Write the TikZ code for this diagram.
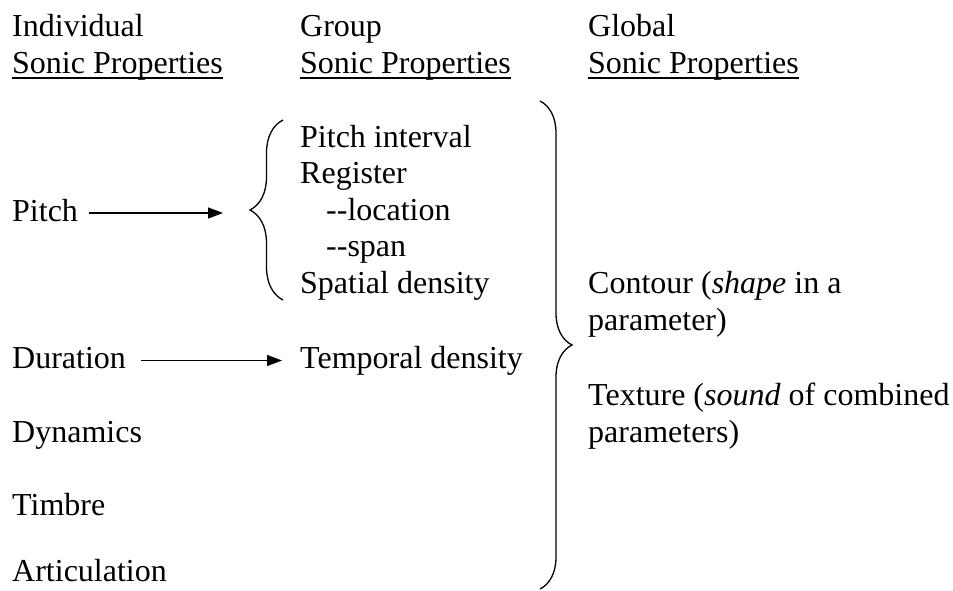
\documentclass[tikz,border=0pt]{standalone}
\usepackage{fontspec}
\setmainfont{Liberation Serif}
\usetikzlibrary{arrows.meta,positioning,decorations.pathreplacing}

\begin{document}
\begin{tikzpicture}[
    x=1pt, y=-1pt,
    font=\fontsize{32}{36.8}\selectfont,
    txt/.style={anchor=base west, inner sep=0pt, text height=22pt, text depth=6pt},
    uline/.style={line width=1.5pt},
    curly/.style={decorate, line width=1.3pt, decoration={brace, amplitude=#1}},
    arrow/.style={-{Triangle[length=15pt,width=11pt]}, line width=1.3pt}
]
\useasboundingbox (0,0) rectangle (953,590);

% Headings
\node[txt] (indiv) at (12,36) {Individual};
\node[txt] (indiv_sp) at (12,73.5) {Sonic Properties};
\node[txt] (group) at (300,36) {Group};
\node[txt] (group_sp) at (300,73.5) {Sonic Properties};
\node[txt] (global) at (588,36) {Global};
\node[txt] (global_sp) at (588,73.5) {Sonic Properties};

% Individual properties
\node[txt] (pitch) at (12,221) {Pitch};
\node[txt] (duration) at (12,368.5) {Duration};
\node[txt] (dynamics) at (12,442) {Dynamics};
\node[txt] (timbre) at (12,515) {Timbre};
\node[txt, text depth=0pt] (artic) at (12,581) {Articulation};

% Group properties
\node[txt] (interval) at (300,147) {Pitch interval};
\node[txt] (register) at (300,183.5) {Register};
\node[txt] (location) at (326,220) {-{}-location};
\node[txt] (span) at (326,256.5) {-{}-span};
\node[txt] (spatial) at (300,293) {Spatial density};
\node[txt] (temporal) at (300,368.5) {Temporal density};

% Global properties
\node[txt] (contour) at (588,293) {Contour (\textit{shape} in a};
\node[txt] (contour2) at (588,330) {parameter)};
\node[txt] (texture) at (588,405) {Texture (\textit{sound} of combined};
\node[txt] (texture2) at (588,442) {parameters)};

% Underlines
\draw[uline] ([yshift=-4.5pt]indiv_sp.base west) -- ([yshift=-4.5pt]indiv_sp.base east);
\draw[uline] ([yshift=-4.5pt]group_sp.base west) -- ([yshift=-4.5pt]group_sp.base east);
\draw[uline] ([yshift=-4.5pt]global_sp.base west) -- ([yshift=-4.5pt]global_sp.base east);

% Braces
\draw[curly=33pt] (283,300) -- (283,120);
\draw[curly=32pt] (540,101) -- (540,589);

% Arrows
\coordinate (pitch_tip) at (223,213);
\draw[arrow, shorten <=11pt] (pitch.east) -- (pitch_tip);
\draw[arrow, shorten <=15pt, shorten >=18pt] (duration.east) -- (temporal.west);
\end{tikzpicture}
\end{document}
